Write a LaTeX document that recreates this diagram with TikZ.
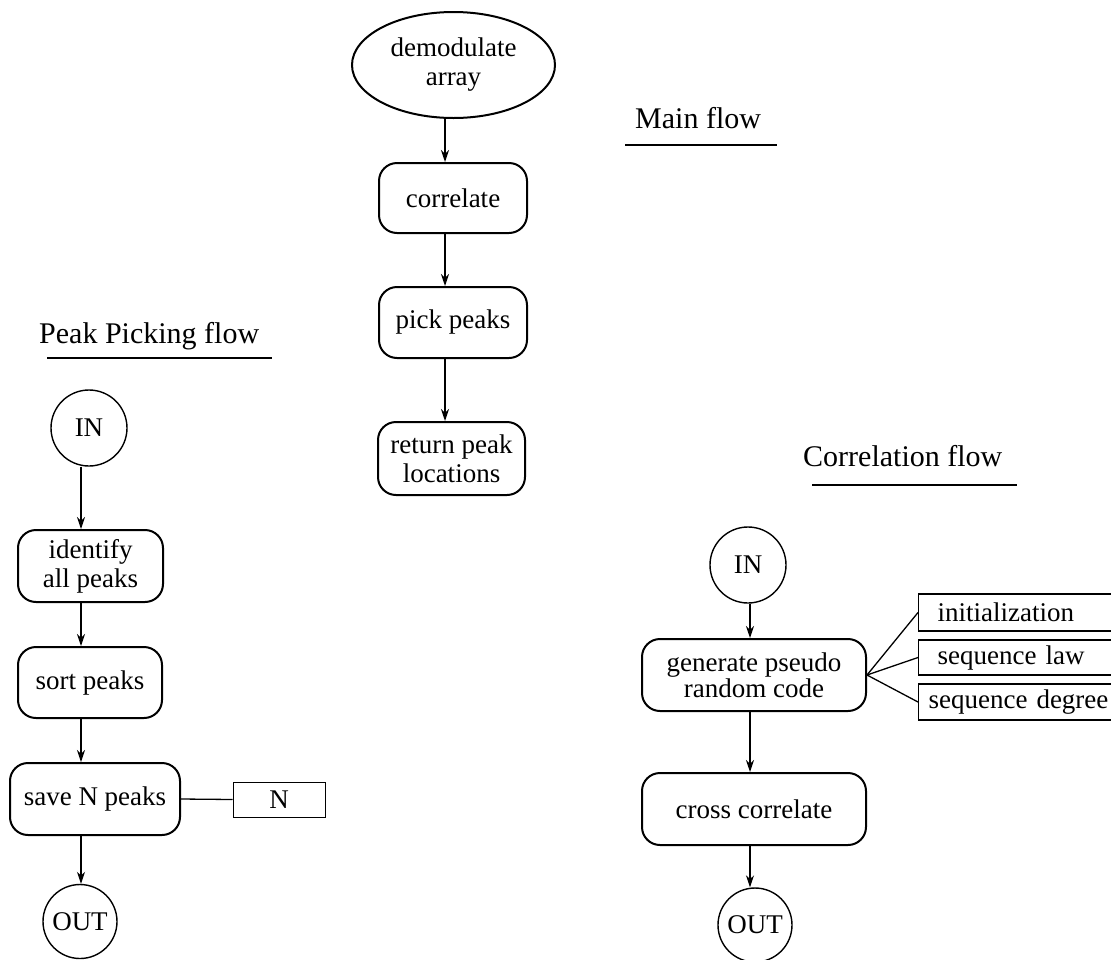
\documentclass[tikz,border=0pt]{standalone}
\usepackage{fontspec}
\setmainfont{Liberation Serif}
\usetikzlibrary{shapes.geometric,arrows.meta}
\newcommand\nodefnt{\fontsize{27}{29}\selectfont}
\newcommand\headfnt{\fontsize{30}{36}\selectfont}
\begin{document}
\begin{tikzpicture}[x=1pt,y=-1pt,
  proc/.style={draw, line width=2pt, rounded corners=18pt, align=center, font=\nodefnt, inner sep=0pt},
  term/.style={draw, circle, line width=1.4pt, inner sep=0pt, font=\nodefnt},
  parm/.style={draw, line width=1.1pt, font=\nodefnt, anchor=west, align=left, inner ysep=0pt},
  arr/.style={-{Stealth[length=12pt,width=8pt]}, line width=1.3pt},
  conn/.style={line width=1.3pt},
  head/.style={font=\headfnt, anchor=base west, inner sep=0pt},
  uline/.style={line width=1.5pt}]
\useasboundingbox (0,0) rectangle (1111,959);
\clip (0,0) rectangle (1111,959);
\fill[white] (0,0) rectangle (1111,959);

% column guide coordinates
\coordinate (lx) at (81,0);
\coordinate (mx) at (445,0);
\coordinate (cx) at (750,0);

% headers
\node[head] (hmain) at (635,128) {Main flow};
\draw[uline] (625,145) -- (777,145);
\node[head] (hpeak) at (39,343) {Peak Picking flow};
\draw[uline] (47,358) -- (272,358);
\node[head] (hcorr) at (803,466) {Correlation flow};
\draw[uline] (812,485) -- (1017,485);

% main flow
\node[draw, ellipse, line width=2pt, minimum width=203pt, minimum height=106pt, inner sep=0pt, align=center, font=\nodefnt] (dem) at (453.5,65) {demodulate\\array};
\node[proc, minimum width=148pt, minimum height=70pt] (cor) at (453,198) {correlate};
\node[proc, minimum width=148pt, minimum height=71pt] (pick) at (453,322.5) {pick peaks};
\node[proc, minimum width=147pt, minimum height=73pt] (ret) at (451.5,458.5) {return peak\\locations};
\draw[arr] (mx |- dem.south) -- (mx |- cor.north);
\draw[arr] (mx |- cor.south) -- (mx |- pick.north);
\draw[arr] (mx |- pick.south) -- (mx |- ret.north);

% peak picking flow
\node[term, minimum size=76pt] (pin) at (89,428) {IN};
\node[proc, minimum width=145pt, minimum height=72pt] (ident) at (90.5,566) {identify\\all peaks};
\node[proc, minimum width=144pt, minimum height=71pt] (sort) at (90,682.5) {sort peaks};
\node[proc, minimum width=170pt, minimum height=72pt] (save) at (95,799) {save N peaks};
\node[term, minimum size=74pt] (pout) at (80,921.5) {OUT};
\node[draw, line width=1pt, minimum width=92pt, minimum height=35pt, inner sep=0pt, font=\nodefnt] (nbox) at (279,799.5) {N};
\draw[arr] (lx |- pin.south) -- (lx |- ident.north);
\draw[arr] (lx |- ident.south) -- (lx |- sort.north);
\draw[arr] (lx |- sort.south) -- (lx |- save.north);
\draw[arr] (lx |- save.south) -- (lx |- pout.north);
\draw[conn] (save.east) -- (nbox.west);

% correlation flow
\node[term, minimum size=76pt] (cin) at (748,565) {IN};
\node[proc, minimum width=224pt, minimum height=72pt] (gen) at (754,675) {generate pseudo\\[-3pt]random code};
\node[proc, minimum width=224pt, minimum height=72pt] (cross) at (754,809) {cross correlate};
\node[term, minimum size=74pt] (cout) at (755,925) {OUT};
\draw[arr] (cx |- cin.south) -- (cx |- gen.north);
\draw[arr] (cx |- gen.south) -- (cx |- cross.north);
\draw[arr] (cx |- cross.south) -- (cx |- cout.north);

% parameter boxes
\node[parm, inner xsep=19pt, text width=172pt, minimum height=37pt] (ini) at (918,612.5) {initialization};
\node[parm, inner xsep=19pt, text width=172pt, minimum height=35pt] (law) at (918,657.5) {sequence law};
\node[parm, inner xsep=10pt, text width=190pt, minimum height=36pt] (deg) at (918,702) {sequence degree};
\draw[conn] (gen.east) -- (ini.west);
\draw[conn] (gen.east) -- (law.west);
\draw[conn] (gen.east) -- (deg.west);
\end{tikzpicture}
\end{document}
